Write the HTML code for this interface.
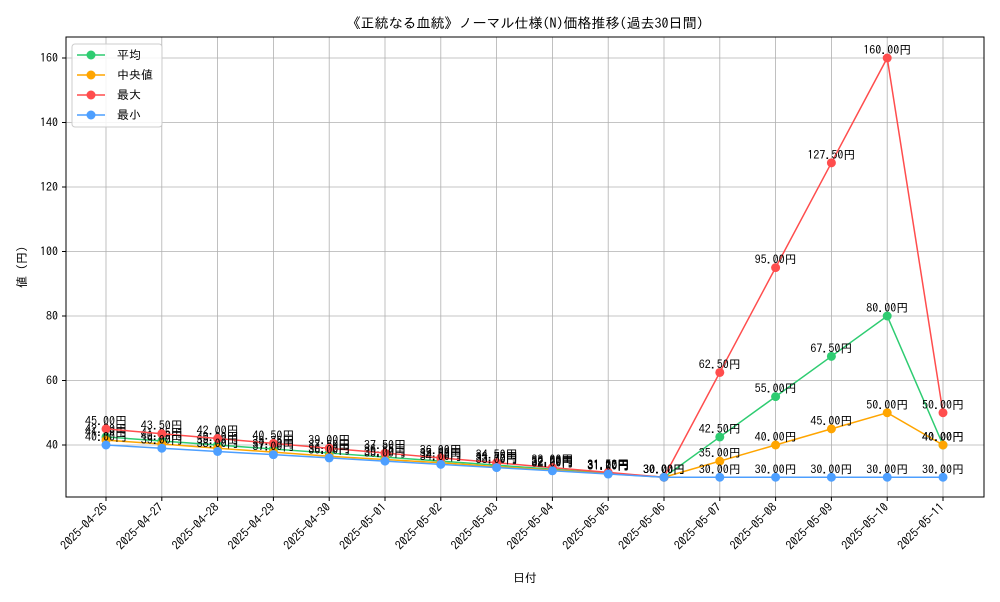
<!DOCTYPE html>
<html><head><meta charset="utf-8"><style>
body{margin:0;background:#fff;font-family:"IPAGothic","Noto Sans CJK JP",monospace;}
svg text{font-family:"IPAGothic","Noto Sans CJK JP",monospace;}
</style></head><body>
<svg id="chart" width="1000" height="600" xmlns="http://www.w3.org/2000/svg">
<text x="525" y="28" text-anchor="middle" font-size="14">《正統なる血統》ノーマル仕様(N)価格推移(過去30日間)</text>
<g id="grid"></g>
<rect x="66" y="37" width="918" height="460" fill="none" stroke="#000" stroke-width="1"/>
<g id="series"></g>
<g id="axes"></g>
<text x="525" y="582" text-anchor="middle" font-size="12">日付</text>
<text transform="translate(26,267) rotate(-90)" text-anchor="middle" font-size="12">値 (円)</text>
<g>
<rect x="72" y="44" width="90" height="83" fill="#fff" fill-opacity="0.85" stroke="#ccc" rx="3"/>
</g>
<g id="legend"></g>
</svg>
<script>
const dates=["2025-04-26","2025-04-27","2025-04-28","2025-04-29","2025-04-30","2025-05-01","2025-05-02","2025-05-03","2025-05-04","2025-05-05","2025-05-06","2025-05-07","2025-05-08","2025-05-09","2025-05-10","2025-05-11"];
const meanVals=[42.5,41.25,40,38.75,37.5,36.25,35,33.75,32.5,31.25,30,42.5,55,67.5,80,40];
const medianVals=[41.5,40.3,39,37.8,36.5,35.5,34.5,33.3,32.2,31.1,30,35,40,45,50,40];
const maxVals=[45,43.5,42,40.5,39,37.5,36,34.5,33,31.5,30,62.5,95,127.5,160,50];
const minVals=[40,39,38,37,36,35,34,33,32,31,30,30,30,30,30,30];
const yTicks=[40,60,80,100,120,140,160];
const seriesNames=["平均","中央値","最大","最小"];
const NS="http://www.w3.org/2000/svg";
const X0=106,X1=943,Y40=445,PPU=387/120;
const xs=i=>X0+(X1-X0)*i/(dates.length-1);
const ys=v=>Y40-(v-40)*PPU;
function mk(t,a,p){const e=document.createElementNS(NS,t);for(const k in a)e.setAttribute(k,a[k]);p.appendChild(e);return e;}
const grid=document.getElementById('grid'),axes=document.getElementById('axes'),ser=document.getElementById('series'),leg=document.getElementById('legend');
dates.forEach((d,i)=>{
 const x=xs(i);
 const g=mk('line',{x1:x,x2:x,y1:37,y2:497,stroke:'#b0b0b0','stroke-width':0.8},grid);
 
 
 mk('line',{x1:x,x2:x,y1:497,y2:501,stroke:'#000'},axes);
 const t=mk('text',{x:x+2,y:508,'font-size':12,'text-anchor':'end',transform:`rotate(-45 ${x+2} 508)`},axes);
 
 
 t.textContent=d;
});
yTicks.forEach(v=>{
 const y=ys(v);
 const g=mk('line',{x1:66,x2:984,y1:y,y2:y,stroke:'#b0b0b0','stroke-width':0.8},grid);
 
 
 mk('line',{x1:62,x2:66,y1:y,y2:y,stroke:'#000'},axes);
 const t=mk('text',{x:58,y:y+4,'font-size':12,'text-anchor':'end'},axes);
 
 
 t.textContent=v;
});
const all=[[meanVals,'#2ecc71','mean'],[medianVals,'#ffa500','median'],[maxVals,'#ff4d4d','max'],[minVals,'#4d9fff','min']];
all.forEach(([vals,c,n])=>{
 const g=mk('g',{},ser);
 
 
 const pl=mk('polyline',{points:vals.map((v,i)=>xs(i)+','+ys(v)).join(' '),fill:'none',stroke:c,'stroke-width':1.5},g);
 
 
 vals.forEach((v,i)=>{
  const p=mk('circle',{cx:xs(i),cy:ys(v),r:4.5,fill:c},g);
  
  
  const t=mk('text',{x:xs(i),y:ys(v)-4,'font-size':12,'text-anchor':'middle'},g);
  
  
  t.textContent=v.toFixed(2)+'円';
 });
});
all.forEach(([vals,c,n],k)=>{
 const y=55+k*20;
 const g=mk('g',{},leg);
 
 
 mk('line',{x1:77,x2:105,y1:y,y2:y,stroke:c,'stroke-width':1.5},g);
 mk('circle',{cx:91,cy:y,r:4.5,fill:c},g);
 const t=mk('text',{x:117,y:y+4,'font-size':12},g);
 t.textContent=seriesNames[k];
});
</script>
</body></html>
